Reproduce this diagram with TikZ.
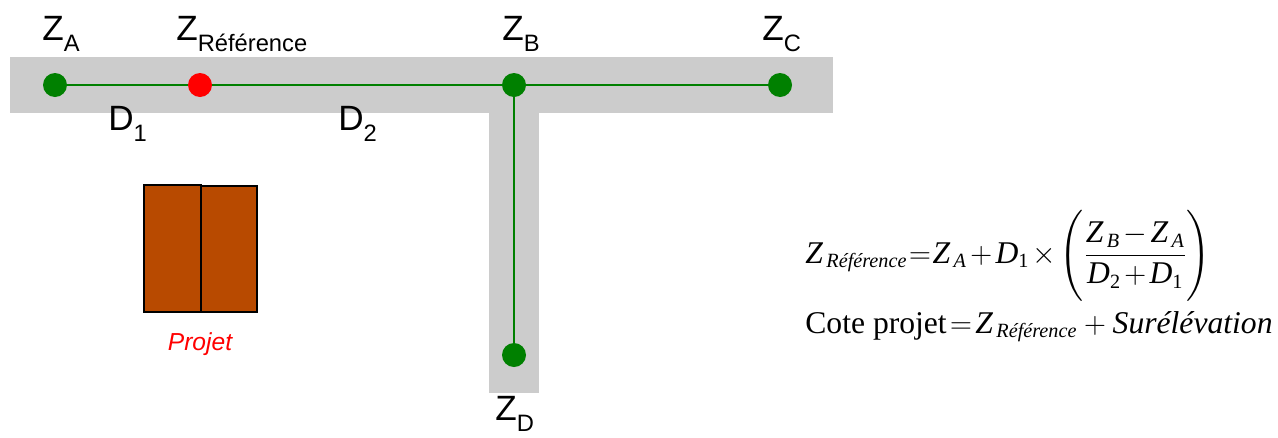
\documentclass[tikz,border=0pt]{standalone}
\usepackage{amsmath}
\usepackage{fontspec}
\setmainfont{Liberation Sans}
\newfontfamily\tnr{Liberation Serif}
\usetikzlibrary{positioning}

\definecolor{roadgray}{RGB}{204,204,204}
\definecolor{pipegreen}{RGB}{0,128,0}
\definecolor{brick}{RGB}{184,74,0}

\DeclareMathSizes{18}{18}{11.5}{8.5}

% label with lowered subscript
\newcommand\zlabel[2]{#1\raisebox{-6.8pt}{\fontsize{13.5}{15}\selectfont #2}}
% formula letters
\newcommand\mv[1]{\text{\tnr\itshape #1}}
\newcommand\mr[1]{\text{\tnr #1}}
\newcommand\sub[1]{_{\mkern3mu\mv{#1}}}

\tikzset{
  road/.style={fill=roadgray, draw=none},
  pipe/.style={draw=pipegreen, line width=1.7pt},
  station/.style={circle, fill=pipegreen, inner sep=0pt, minimum size=0.48cm},
  refpoint/.style={station, fill=red},
  zname/.style={anchor=base west, inner sep=0pt, font=\fontsize{20}{24}\selectfont},
  brickbox/.style={fill=brick, draw=black, line width=0.6pt},
  formula/.style={anchor=base west, inner sep=0pt, font=\fontsize{18}{22}\selectfont}
}

\begin{document}
\begin{tikzpicture}[x=0.02cm, y=-0.02cm]
  \useasboundingbox (0,0) rectangle (1278,437);

  % Roads (T shape)
  \fill[road] (10,57) rectangle (833,113);
  \fill[road] (489,113) rectangle (539,393);

  % Points on the network
  \node[station]  (za)   at (55,85)  {};
  \node[refpoint] (zref) at (200,85) {};
  \node[station]  (zb)   at (514,85) {};
  \node[station]  (zc)   at (780,85) {};
  \node[station]  (zd)   at (514,355) {};

  % Pipes
  \draw[pipe] (za) -- (zref);
  \draw[pipe] (zref) -- (zb);
  \draw[pipe] (zb) -- (zc);
  \draw[pipe] (zb) -- (zd);

  % Point labels
  \node[zname] (lza)   at (42,40)  {\zlabel{Z}{A}};
  \node[zname] (lzref) at (176,40) {\zlabel{Z}{Référence}};
  \node[zname] (lzb)   at (502,40) {\zlabel{Z}{B}};
  \node[zname] (lzc)   at (762,40) {\zlabel{Z}{C}};
  \node[zname] (lzd)   at (495,420) {\zlabel{Z}{D}};

  % Distances
  \node[zname] (ld1) at (108,130) {\zlabel{D}{1}};
  \node[zname] (ld2) at (338,130) {\zlabel{D}{2}};

  % Project building
  \draw[brickbox] (144,185) rectangle (201,312);
  \draw[brickbox] (201,186) rectangle (257,312);
  \node[font=\fontsize{14}{16}\selectfont\itshape, text=red, inner sep=0pt] (projet) at (200,344) {Projet};

  % Formulas
  \node[formula] (eqref) at (805,263) {\medmuskip=2mu\thickmuskip=1mu$\mv{Z}\sub{Référence}=\mv{Z}\sub{A}+\mv{D}_{\mr{1}}\times\left(\rule[-21pt]{0pt}{53pt}\dfrac{\mv{Z}\sub{B}-\mv{Z}\sub{A}}{\mv{D}_{\mr{2}}+\mv{D}_{\mr{1}}}\right)$};
  \node[formula] (eqcote) at (805,333) {\thickmuskip=2mu$\mr{Cote projet}=\mv{Z}\sub{Référence}+\mv{Surélévation}$};
\end{tikzpicture}
\end{document}
